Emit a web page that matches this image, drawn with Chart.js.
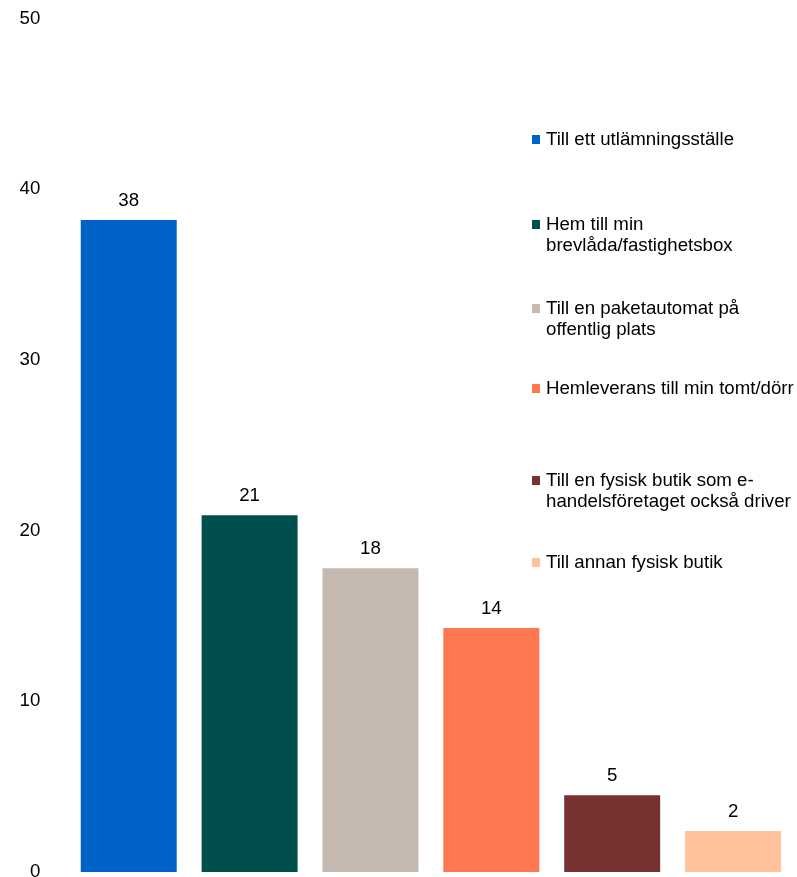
<!DOCTYPE html>
<html>
<head>
<meta charset="utf-8">
<script src="https://cdn.jsdelivr.net/npm/chart.js@4"></script>
<style>
  html, body { margin: 0; padding: 0; background: #fff; overflow: hidden; }
  #wrap { position: relative; width: 797px; height: 877px; }
  #chart { display: block; }
  #legend { position: absolute; left: 0; top: 0; font-family: "Liberation Sans", Arial, sans-serif; font-size: 18.67px; line-height: 20.5px; color: #000; }
  .item { position: absolute; left: 546px; white-space: nowrap; }
  .box { position: absolute; left: -14px; top: 6px; width: 8px; height: 9px; }
</style>
</head>
<body>
<div id="wrap">
  <canvas id="chart" width="797" height="877"></canvas>
  <div id="legend"></div>
</div>
<script>
// Data
const categories = [
  "Till ett utlämningsställe",
  "Hem till min brevlåda/fastighetsbox",
  "Till en paketautomat på offentlig plats",
  "Hemleverans till min tomt/dörr",
  "Till en fysisk butik som e-handelsföretaget också driver",
  "Till annan fysisk butik"
];
const values = [38.2, 20.9, 17.8, 14.3, 4.5, 2.4];
const colors = ["#0061c8", "#004f4c", "#c5b8af", "#ff7750", "#773131", "#ffc29c"];
const yTicks = [0, 10, 20, 30, 40, 50];

// Legend text as shown (line breaks) and vertical position of each item
const legendLines = [
  ["Till ett utlämningsställe"],
  ["Hem till min", "brevlåda/fastighetsbox"],
  ["Till en paketautomat på", "offentlig plats"],
  ["Hemleverans till min tomt/dörr"],
  ["Till en fysisk butik som e-", "handelsföretaget också driver"],
  ["Till annan fysisk butik"]
];
const legendTops = [129, 214, 298, 378, 470, 552];

const legend = document.getElementById("legend");
legendLines.forEach((lines, i) => {
  const item = document.createElement("div");
  item.className = "item";
  item.style.top = legendTops[i] + "px";
  const box = document.createElement("span");
  box.className = "box";
  box.style.background = colors[i];
  item.appendChild(box);
  lines.forEach(t => {
    const line = document.createElement("div");
    line.textContent = t;
    item.appendChild(line);
  });
  legend.appendChild(item);
});

const font = { family: "'Liberation Sans', Arial, sans-serif", size: 18.67 };

// Value labels above the bars
const valueLabels = {
  id: "valueLabels",
  afterDatasetsDraw(chart) {
    const ctx = chart.ctx;
    const meta = chart.getDatasetMeta(0);
    ctx.save();
    ctx.font = font.size + "px " + font.family;
    ctx.fillStyle = "#000";
    ctx.textAlign = "center";
    ctx.textBaseline = "middle";
    meta.data.forEach((bar, i) => {
      ctx.fillText(Math.round(values[i]), bar.x, bar.y - 19);
    });
    ctx.restore();
  }
};

new Chart(document.getElementById("chart").getContext("2d"), {
  type: "bar",
  data: {
    labels: categories,
    datasets: [{
      data: values,
      backgroundColor: colors,
      borderWidth: 0
    }]
  },
  options: {
    responsive: false,
    animation: false,
    layout: { padding: { top: 18.5, right: 3.5, bottom: 5, left: 0 } },
    plugins: {
      legend: { display: false },
      tooltip: { enabled: false }
    },
    datasets: {
      bar: { barPercentage: 0.794, categoryPercentage: 1 }
    },
    scales: {
      x: { display: false },
      y: {
        min: 0,
        max: 50,
        afterBuildTicks: scale => { scale.ticks = yTicks.map(v => ({ value: v })); },
        afterFit: scale => {
          scale.width = 68.3;
          scale.paddingTop = 0;
          scale.paddingBottom = 0;
        },
        grid: { display: false, drawTicks: false },
        border: { display: false },
        ticks: { color: "#000", font: font, padding: 28 }
      }
    }
  },
  plugins: [valueLabels]
});
</script>
</body>
</html>
